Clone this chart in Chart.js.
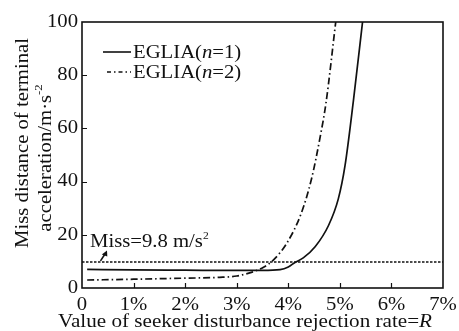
<!DOCTYPE html>
<html><head><meta charset="utf-8">
<script src="https://cdn.jsdelivr.net/npm/chart.js@4.4.1/dist/chart.umd.min.js"></script>
<style>html,body{margin:0;padding:0;background:#fff}#wrap{width:459px;height:331px;position:relative}</style>
</head><body><div id="wrap"><canvas id="c" width="459" height="331"></canvas></div>
<script>
// Data
const xTicks = [0, 1, 2, 3, 4, 5, 6, 7];
const xTickLabels = ['0', '1%', '2%', '3%', '4%', '5%', '6%', '7%'];
const yTicks = [0, 20, 40, 60, 80, 100];
const yTickLabels = ['0', '20', '40', '60', '80', '100'];
const n1X = [0.1, 1, 2, 3, 3.5, 3.84, 4.0, 4.13, 4.29, 4.52, 4.78, 4.97, 5.1, 5.26, 5.44];
const n1Y = [7.0, 6.8, 6.7, 6.6, 6.6, 6.9, 7.9, 9.6, 11.3, 15.5, 23.5, 33.5, 46, 70, 100];
const n2X = [0.1, 1, 2, 2.67, 3, 3.32, 3.52, 3.71, 3.97, 4.25, 4.45, 4.62, 4.73, 4.92];
const n2Y = [3.0, 3.3, 3.7, 4.0, 4.5, 6.1, 7.8, 10.5, 16.8, 28, 41, 57, 69.4, 100];
const missX = [0, 7];
const missY = [9.8, 9.8];
const seriesNames = ['EGLIA(n=1)', 'EGLIA(n=2)'];

const FONT = '"Liberation Serif", "Times New Roman", serif';
const INK = '#111';
const FS = 18;     // font size
const SX = 1.15;   // horizontal stretch of the reference lettering

function pts(xs, ys) { return xs.map((x, i) => ({ x: x, y: ys[i] })); }

function partsWidth(ctx, parts) {
  let w = 0;
  for (const p of parts) {
    ctx.font = (p.it ? 'italic ' : '') + (p.size || FS) + 'px ' + FONT;
    w += ctx.measureText(p.t).width;
  }
  return w;
}
// draw text parts at (x,y); align 'left'|'center'|'right'; sx horizontal scale
function drawParts(ctx, parts, x, y, align, sx) {
  const w = partsWidth(ctx, parts);
  ctx.save();
  ctx.translate(x, y);
  ctx.scale(sx, 1);
  let cx = align === 'center' ? -w / 2 : align === 'right' ? -w : 0;
  ctx.textAlign = 'left';
  for (const p of parts) {
    ctx.font = (p.it ? 'italic ' : '') + (p.size || FS) + 'px ' + FONT;
    ctx.fillText(p.t, cx, p.dy || 0);
    cx += ctx.measureText(p.t).width;
  }
  ctx.restore();
  return w * sx;
}
function italicN(name) {
  const m = name.match(/^(.*\()(n)(=.*)$/);
  return [{ t: m[1] }, { t: m[2], it: true }, { t: m[3] }];
}

const decor = {
  id: 'decor',
  afterDraw(chart) {
    const ctx = chart.ctx;
    const xs = chart.scales.x, ys = chart.scales.y;
    const ca = chart.chartArea;
    ctx.save();
    ctx.fillStyle = INK;
    ctx.strokeStyle = INK;
    // frame
    ctx.lineWidth = 1.6;
    ctx.strokeRect(ca.left, ca.top, ca.right - ca.left, ca.bottom - ca.top);
    // inward ticks
    ctx.lineWidth = 1.2;
    ctx.beginPath();
    xTicks.slice(1, -1).forEach(v => {
      const px = Math.round(xs.getPixelForValue(v)) + 0.5;
      ctx.moveTo(px, ca.bottom); ctx.lineTo(px, ca.bottom - 5);
    });
    yTicks.slice(1, -1).forEach(v => {
      const py = Math.round(ys.getPixelForValue(v)) + 0.5;
      ctx.moveTo(ca.left, py); ctx.lineTo(ca.left + 5, py);
    });
    ctx.stroke();

    // tick labels
    ctx.textBaseline = 'middle';
    xTicks.forEach((v, i) => {
      drawParts(ctx, [{ t: xTickLabels[i] }], xs.getPixelForValue(v), ca.bottom + 17, 'center', SX);
    });
    yTicks.forEach((v, i) => {
      drawParts(ctx, [{ t: yTickLabels[i] }], ca.left - 4, ys.getPixelForValue(v), 'right', SX);
    });

    // legend
    const rows = [
      { y: 52, x0: 103, dash: [], name: seriesNames[0] },
      { y: 72, x0: 107, dash: [4, 3, 1.5, 3], name: seriesNames[1] }
    ];
    rows.forEach(r => {
      ctx.lineWidth = 1.6;
      ctx.setLineDash(r.dash);
      ctx.beginPath(); ctx.moveTo(r.x0, r.y); ctx.lineTo(131, r.y); ctx.stroke();
      ctx.setLineDash([]);
      drawParts(ctx, italicN(r.name), 133, r.y + 1, 'left', SX);
    });

    // annotation
    ctx.textBaseline = 'alphabetic';
    drawParts(ctx, [{ t: 'Miss=9.8 m/s' }, { t: '2', size: 10, dy: -8 }], 90, 247, 'left', SX);
    // arrow
    const yMiss = ys.getPixelForValue(missY[0]);
    ctx.lineWidth = 1.6;
    ctx.beginPath(); ctx.moveTo(100.5, yMiss - 1); ctx.lineTo(105, 254); ctx.stroke();
    ctx.beginPath(); ctx.moveTo(107, 250.5); ctx.lineTo(101.8, 254.5); ctx.lineTo(107.3, 256.5); ctx.closePath(); ctx.fill();

    // x title, stretched to reference width
    ctx.textBaseline = 'middle';
    const xt = [{ t: 'Value of seeker disturbance rejection rate=' }, { t: 'R', it: true }];
    drawParts(ctx, xt, 245, 322, 'center', 374 / partsWidth(ctx, xt));

    // y title (two rotated lines)
    const y1 = [{ t: 'Miss distance of terminal' }];
    ctx.save();
    ctx.translate(23, 143);
    ctx.rotate(-Math.PI / 2);
    drawParts(ctx, y1, 0, 0, 'center', SX);
    ctx.restore();
    const y2 = [{ t: 'acceleration/m\u00b7s' }, { t: '-2', size: 11, dy: -7 }];
    ctx.save();
    ctx.translate(46, 158);
    ctx.rotate(-Math.PI / 2);
    drawParts(ctx, y2, 0, 0, 'center', SX);
    ctx.restore();
    ctx.restore();
  }
};

new Chart(document.getElementById('c'), {
  type: 'line',
  data: {
    datasets: [
      { label: seriesNames[0], data: pts(n1X, n1Y), borderColor: INK, borderWidth: 1.7, pointRadius: 0, cubicInterpolationMode: 'monotone', fill: false },
      { label: seriesNames[1], data: pts(n2X, n2Y), borderColor: INK, borderWidth: 1.7, borderDash: [7, 3, 1.5, 3], pointRadius: 0, cubicInterpolationMode: 'monotone', fill: false },
      { label: 'Miss', data: pts(missX, missY), borderColor: INK, borderWidth: 1.5, borderDash: [2.5, 1.5], pointRadius: 0, fill: false }
    ]
  },
  options: {
    responsive: false,
    animation: false,
    devicePixelRatio: 1,
    layout: { padding: { left: 0, top: 22, right: 16, bottom: 0 } },
    plugins: { legend: { display: false }, tooltip: { enabled: false } },
    scales: {
      x: {
        type: 'linear', min: 0, max: 7,
        afterBuildTicks(s) { s.ticks = xTicks.map(v => ({ value: v })); },
        afterFit(s) { s.height = 43; },
        grid: { display: false, drawTicks: false },
        border: { display: false },
        ticks: { display: false }
      },
      y: {
        type: 'linear', min: 0, max: 100,
        afterBuildTicks(s) { s.ticks = yTicks.map(v => ({ value: v })); },
        afterFit(s) { s.width = 82; },
        grid: { display: false, drawTicks: false },
        border: { display: false },
        ticks: { display: false }
      }
    }
  },
  plugins: [decor]
});
</script>
</body></html>
